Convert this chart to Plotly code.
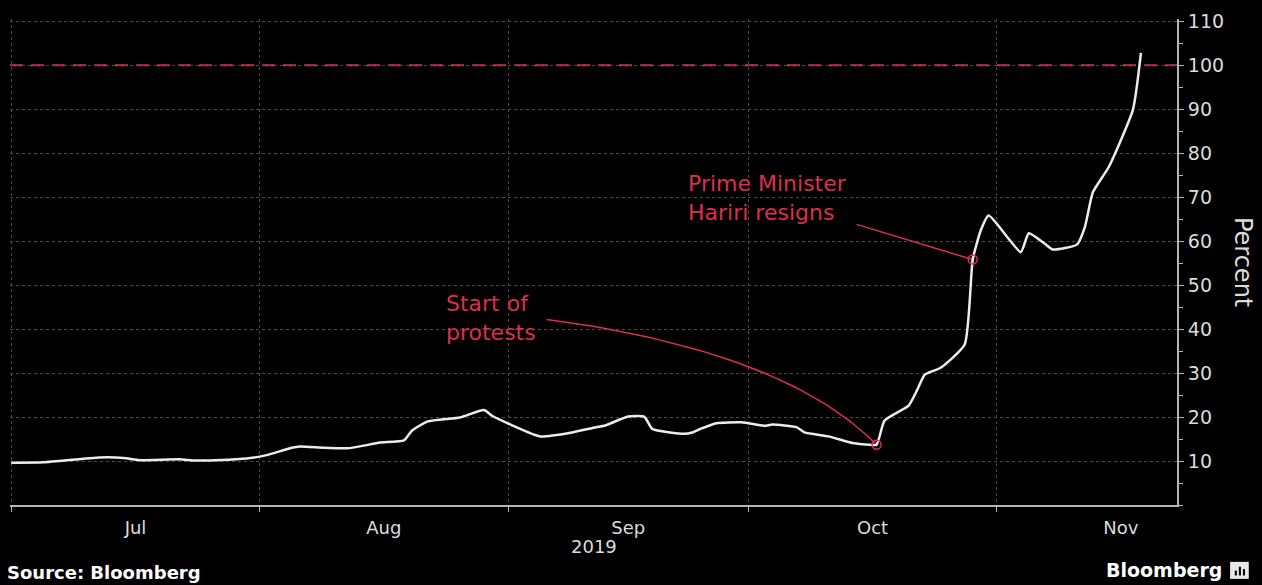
import plotly.graph_objects as go
import pandas as pd

# ---- data ----
dates = [
    "2019-07-01", "2019-07-05", "2019-07-12", "2019-07-15", "2019-07-17", "2019-07-22",
    "2019-07-24", "2019-07-29", "2019-08-01", "2019-08-02", "2019-08-05", "2019-08-06",
    "2019-08-09", "2019-08-12", "2019-08-14", "2019-08-16", "2019-08-19", "2019-08-20",
    "2019-08-22", "2019-08-26", "2019-08-29", "2019-08-30", "2019-09-05", "2019-09-09",
    "2019-09-12", "2019-09-13", "2019-09-16", "2019-09-18", "2019-09-19", "2019-09-23",
    "2019-09-24", "2019-09-25", "2019-09-27", "2019-09-30", "2019-10-01", "2019-10-03",
    "2019-10-04", "2019-10-07", "2019-10-08", "2019-10-11", "2019-10-14", "2019-10-16",
    "2019-10-17", "2019-10-18", "2019-10-21", "2019-10-22", "2019-10-23", "2019-10-25",
    "2019-10-28", "2019-10-29", "2019-10-30", "2019-10-31", "2019-11-04", "2019-11-05",
    "2019-11-07", "2019-11-08", "2019-11-11", "2019-11-12", "2019-11-13", "2019-11-15",
    "2019-11-18", "2019-11-19",
]
values = [
    9.6, 9.7, 10.8, 10.7, 10.2, 10.4,
    10.1, 10.4, 11.0, 11.4, 13.0, 13.3,
    13.0, 12.9, 13.5, 14.2, 14.7, 16.9,
    19.0, 19.9, 21.6, 20.3, 15.6, 16.5,
    17.7, 18.0, 20.1, 20.1, 17.3, 16.2,
    16.5, 17.3, 18.6, 18.8, 18.6, 18.0,
    18.3, 17.7, 16.5, 15.6, 14.1, 13.7,
    13.7, 19.2, 22.6, 25.9, 29.6, 31.2,
    36.5, 55.8, 62.4, 65.8, 57.5, 61.8,
    59.4, 58.1, 59.2, 63.2, 71.1, 76.9,
    89.9, 102.8,
]

y_ticks = [10, 20, 30, 40, 50, 60, 70, 80, 90, 100, 110]
threshold = 100

event_dates = ["2019-10-17", "2019-10-29"]
event_labels = ["Start of<br>protests", "Prime Minister<br>Hariri resigns"]
label_pos = [("2019-08-24 00:00", 42.5), ("2019-09-23 06:00", 69.8)]
connector_start = [("2019-09-05 20:00", 42.2), ("2019-10-14 12:00", 63.8)]
connector_ctrl = [("2019-10-05 12:00", 35.0), None]

RED = "#dc2f4c"
GRID = "#4a4a4a"
AXIS = "#b5b5b5"
TXT = "#dcdcdc"
FONT = "DejaVu Sans, Open Sans, sans-serif"

series = pd.Series(values, index=pd.to_datetime(dates))
ev_vals = [series[pd.Timestamp(d)] for d in event_dates]

fig = go.Figure()

# connectors
for i in range(2):
    x0 = pd.Timestamp(connector_start[i][0]).value
    y0 = connector_start[i][1]
    x2 = pd.Timestamp(event_dates[i]).value
    y2 = ev_vals[i]
    if connector_ctrl[i] is not None:
        x1 = pd.Timestamp(connector_ctrl[i][0]).value
        y1 = connector_ctrl[i][1]
        xs, ys = [], []
        n = 40
        for k in range(n + 1):
            t = k / n
            xs.append((1 - t) ** 2 * x0 + 2 * (1 - t) * t * x1 + t * t * x2)
            ys.append((1 - t) ** 2 * y0 + 2 * (1 - t) * t * y1 + t * t * y2)
        xs = pd.to_datetime(xs)
    else:
        xs = pd.to_datetime([x0, x2])
        ys = [y0, y2]
    fig.add_trace(go.Scatter(x=xs, y=ys, mode="lines",
                             line=dict(color=RED, width=1.5),
                             hoverinfo="skip", showlegend=False))

fig.add_trace(go.Scatter(x=pd.to_datetime(dates), y=values, mode="lines",
                         line=dict(color="#ececec", width=2.5, shape="spline", smoothing=0.5),
                         showlegend=False))

fig.add_trace(go.Scatter(x=pd.to_datetime(event_dates), y=ev_vals, mode="markers",
                         marker=dict(symbol="circle-open", size=9,
                                     color=RED, line=dict(width=1.5, color=RED)),
                         showlegend=False, hoverinfo="skip"))

fig.add_shape(type="line", xref="paper", x0=0, x1=1, yref="y", y0=threshold, y1=threshold,
              line=dict(color=RED, width=2, dash="13px,8px"), layer="below")

for i in range(2):
    fig.add_annotation(x=label_pos[i][0], y=label_pos[i][1], text=event_labels[i],
                       showarrow=False, xanchor="left", yanchor="middle", align="left",
                       font=dict(family=FONT, size=22, color=RED))

fig.add_annotation(xref="paper", yref="paper", x=0.5, y=-0.086, text="2019",
                   showarrow=False, xanchor="center", yanchor="middle",
                   font=dict(family=FONT, size=18, color=TXT))
fig.add_annotation(xref="paper", yref="paper", x=-0.0045, y=-0.139, text="<b>Source: Bloomberg</b>",
                   showarrow=False, xanchor="left", yanchor="middle",
                   font=dict(family=FONT, size=18, color="#ffffff"))
fig.add_annotation(xref="paper", yref="paper", x=1.0405, y=-0.133, text="<b>Bloomberg</b>",
                   showarrow=False, xanchor="right", yanchor="middle",
                   font=dict(family=FONT, size=19, color="#ffffff"))
fig.add_annotation(xref="paper", yref="paper", x=1.0566, y=0.5, text="Percent",
                   showarrow=False, textangle=90, xanchor="center", yanchor="middle",
                   font=dict(family=FONT, size=24, color=TXT))

# small logo square
fig.add_shape(type="rect", xref="paper", yref="paper", x0=1.0455, x1=1.0615, y0=-0.152, y1=-0.117,
              fillcolor="#e8e8e8", line=dict(width=0))
for bx, bh in [(1.0495, 0.010), (1.0530, 0.018), (1.0565, 0.013)]:
    fig.add_shape(type="rect", xref="paper", yref="paper", x0=bx, x1=bx + 0.0018,
                  y0=-0.145, y1=-0.145 + bh, fillcolor="#000000", line=dict(width=0))

fig.update_layout(
    width=1262, height=585,
    margin=dict(l=10, r=85, t=15, b=80),
    paper_bgcolor="#000000", plot_bgcolor="#000000",
    showlegend=False,
    font=dict(family=FONT, color=TXT),
)
fig.update_xaxes(
    type="date", range=["2019-06-30 20:00", "2019-11-23 12:00"],
    dtick="M1", tick0="2019-07-01", tickformat="%b", ticklabelmode="period",
    showgrid=True, gridcolor=GRID, griddash="dot", gridwidth=1,
    showline=True, linecolor=AXIS, linewidth=2,
    ticks="outside", ticklen=5, tickcolor=AXIS,
    tickfont=dict(family=FONT, size=18, color=TXT),
    zeroline=False,
)
fig.update_yaxes(
    side="right", range=[0, 110.5], tickvals=y_ticks,
    showgrid=True, gridcolor=GRID, griddash="dot", gridwidth=1,
    showline=True, linecolor=AXIS, linewidth=2,
    ticks="outside", ticklen=5, tickcolor=AXIS,
    minor=dict(dtick=5, tick0=0, ticks="outside", ticklen=4, tickcolor=AXIS, showgrid=False),
    tickfont=dict(family=FONT, size=19, color=TXT),
    zeroline=False,
)

fig.write_html("out.html")
